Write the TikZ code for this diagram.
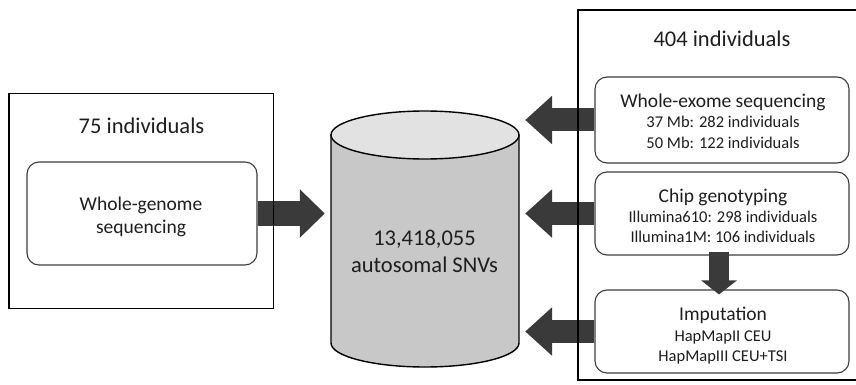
\documentclass[tikz,border=0pt]{standalone}
\usepackage{fontspec}
\setmainfont{Carlito}
\usetikzlibrary{arrows.meta}
\pgfdeclarelayer{bg}
\pgfdeclarelayer{arrowlayer}
\pgfsetlayers{bg,arrowlayer,main}
\definecolor{arrowgray}{HTML}{3A3A3A}
\definecolor{boxgray}{HTML}{3C3C3C}
\definecolor{cylbody}{HTML}{C8C8C8}
\definecolor{cyltop}{HTML}{E2E2E2}
\definecolor{txt}{HTML}{1E1E1E}
\tikzset{
  outerbox/.style={draw=black, line width=1.4pt},
  innerbox/.style={draw=boxgray, line width=1.1pt, rounded corners=12pt, inner sep=0pt},
  titletext/.style={anchor=base, text=txt, font=\fontsize{22.5}{27}\selectfont, inner sep=0pt},
  headtext/.style={anchor=base, text=txt, font=\fontsize{19.5}{23}\selectfont, inner sep=0pt},
  subtext/.style={anchor=base, text=txt, font=\fontsize{16.5}{20}\selectfont, inner sep=0pt},
  bigarrow/.style={draw=arrowgray, line width=25pt, -{Triangle[width=47pt,length=25pt,fill=arrowgray]}},
  rarrow/.style={draw=arrowgray, line width=23pt, -{Triangle[width=47pt,length=27pt,fill=arrowgray]}},
  downarrow/.style={draw=arrowgray, line width=20pt, -{Triangle[width=35pt,length=14pt,fill=arrowgray]}},
}
\begin{document}
\begin{tikzpicture}[x=1pt,y=-1pt]
\begin{pgfonlayer}{bg}
\fill[white] (0,0) rectangle (856,385);
\end{pgfonlayer}
\useasboundingbox (0,0) rectangle (856,385);

% left group
\node[minimum width=264pt, minimum height=214pt, inner sep=0pt] (L) at (141,201) {};
\draw[outerbox] (L.north west) rectangle (L.south east);
\node[titletext] (Lt) at (141.5,133) {75 individuals};
\node[innerbox, minimum width=230pt, minimum height=103pt] (WGS) at (142,213.5) {};
\node[headtext] (WGSa) at (141,210) {Whole-genome};
\node[headtext] (WGSb) at (141,233) {sequencing};

% cylinder
\node[minimum width=188pt, minimum height=257pt, inner sep=0pt] (db) at (425,238.5) {};
\draw[fill=cylbody, line width=1.4pt] (331,135) -- (331,343)
  arc[start angle=180, end angle=360, x radius=94pt, y radius=24pt] -- (519,135) -- cycle;
\draw[fill=cyltop, line width=1.4pt] (425,135) ellipse [x radius=94pt, y radius=24pt];
\node[titletext] (dba) at (424.5,245) {13,418,055};
\node[titletext] (dbb) at (424.5,272) {autosomal SNVs};

% right group
\node[minimum width=288pt, minimum height=370pt, inner sep=0pt] (R) at (722,195) {};
\draw[outerbox] (578,10) rectangle (870,380);
\node[titletext] (Rt) at (722,47) {404 individuals};

\node[innerbox, minimum width=254pt, minimum height=86pt] (WES) at (722,120) {};
\node[headtext] (WESa) at (723,108) {Whole-exome sequencing};
\node[subtext] (WESb) at (723,128) {37 Mb: 282 individuals};
\node[subtext] (WESc) at (723,148) {50 Mb: 122 individuals};

\node[innerbox, minimum width=254pt, minimum height=83pt] (Chip) at (722,213.5) {};
\node[headtext] (Chipa) at (723,202) {Chip genotyping};
\node[subtext] (Chipb) at (723,222) {Illumina610: 298 individuals};
\node[subtext] (Chipc) at (723,242) {Illumina1M: 106 individuals};

\node[innerbox, minimum width=254pt, minimum height=83pt] (Imp) at (722,331.5) {};
\node[headtext] (Impa) at (723,320) {Imputation};
\node[subtext] (Impb) at (723,341) {HapMapII CEU};
\node[subtext] (Impc) at (723,361) {HapMapIII CEU+TSI};

% arrows
\begin{pgfonlayer}{arrowlayer}
\draw[bigarrow] (WGS.east) -- ([xshift=-6pt]db.west |- WGS.east);
\draw[rarrow] (WES.west) -- ([xshift=6pt]db.east |- WES.west);
\draw[rarrow] (Chip.west) -- ([xshift=6pt]db.east |- Chip.west);
\draw[rarrow] (Imp.west) -- ([xshift=6pt]db.east |- Imp.west);
\draw[downarrow] ([yshift=4pt,xshift=-3pt]Chip.south) -- ([yshift=-5pt,xshift=-3pt]Imp.north);
\end{pgfonlayer}
\end{tikzpicture}
\end{document}
